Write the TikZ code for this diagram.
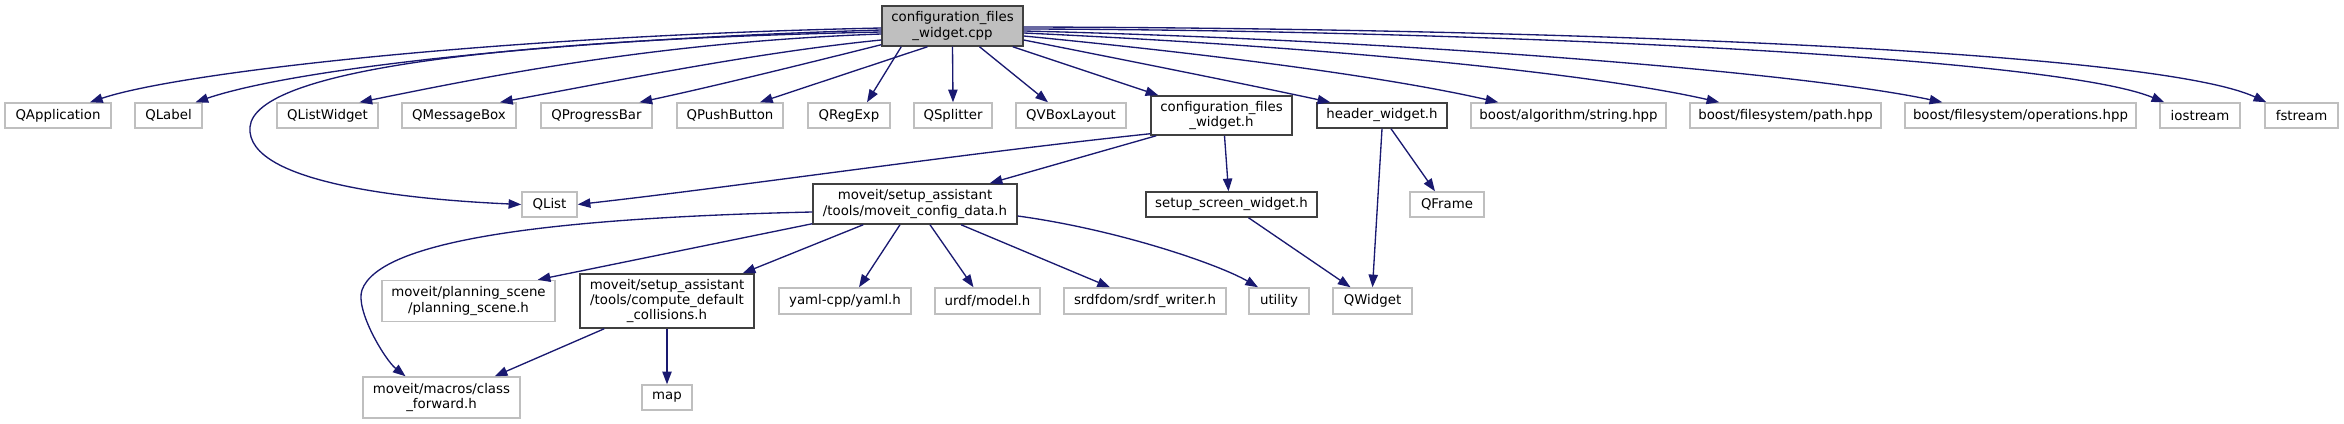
\documentclass[tikz,border=0pt]{standalone}
\usepackage{fontspec}
\setmainfont{DejaVu Sans}
\usetikzlibrary{arrows.meta,calc}
\definecolor{Navy}{HTML}{191970}
\definecolor{Grey}{HTML}{BFBFBF}
\definecolor{Dark}{HTML}{404040}

\begin{document}
\begin{tikzpicture}[x=0.75pt,y=-0.75pt,
    box/.style={draw,rectangle,fill=white,font=\fontsize{10}{11.5}\selectfont,
      align=center,inner xsep=1pt,inner ysep=1pt,minimum height=18.75pt,line width=1.1pt},
    ext/.style={box,draw=Grey},
    doc/.style={box,draw=Dark},
    edge/.style={Navy,line width=1pt,-{Triangle[length=9.5pt,width=7pt]}}]
  \useasboundingbox (0,0) rectangle (2344,424);
  \node[doc,fill=Grey,minimum width=141*0.75pt,minimum height=30pt] (root) at (952.5,26)
    {configuration\_files\\\_widget.cpp};
  \node[doc,minimum width=141*0.75pt,minimum height=39*0.75pt] (confh) at (1221.5,115.5)
    {configuration\_files\\\_widget.h};
  \node[doc,minimum width=130*0.75pt] (headerw) at (1382,115.5) {header\_widget.h};
  \node[doc,minimum width=204*0.75pt,minimum height=30pt] (configdata) at (915,204)
    {moveit/setup\_assistant\\/tools/moveit\_config\_data.h};
  \node[doc,minimum width=171*0.75pt] (setupscreen) at (1231.5,204.5) {setup\_screen\_widget.h};
  \node[doc,minimum width=174*0.75pt,minimum height=54*0.75pt] (computecoll) at (667,301)
    {moveit/setup\_assistant\\/tools/compute\_default\\\_collisions.h};
  \foreach \n/\x/\y/\w/\h/\lbl in {qapp/58/115.5/106/25/QApplication,
    qlabel/168.5/115.5/67/25/QLabel,qlistwidget/327.5/115.5/101/25/QListWidget,
    qmessagebox/459/115.5/114/25/QMessageBox,qprogressbar/596.5/115.5/111/25/QProgressBar,
    qpushbutton/730/115.5/106/25/QPushButton,qregexp/849/115.5/82/25/QRegExp,
    qsplitter/953/115.5/78/25/QSplitter,qvboxlayout/1071/115.5/110/25/QVBoxLayout,
    boostalg/1568.5/115.5/195/25/{boost/algorithm/string.hpp},
    boostpath/1785.5/115.5/191/25/{boost/filesystem/path.hpp},
    boostops/2020.5/115.5/231/25/{boost/filesystem/operations.hpp},
    iostream/2200/115.5/80/25/iostream,fstream/2301.5/115.5/73/25/fstream,
    qlist/549.5/204.5/55/25/QList,qframe/1447/204.5/74/25/QFrame,
    planningscene/468.5/301/173/41/{moveit/planning\_scene\\/planning\_scene.h},
    yaml/845/301/132/26/{yaml-cpp/yaml.h},urdf/987.5/301/105/26/{urdf/model.h},
    srdf/1145/301/162/26/{srdfdom/srdf\_writer.h},utility/1279/301/60/26/utility,
    qwidget/1372.5/301/79/26/QWidget,
    classfwd/441.5/397.5/157/41/{moveit/macros/class\\\_forward.h},
    map/667/397.5/50/25/map}
    \node[ext,minimum width=\w*0.75pt,minimum height=\h*0.75pt] (\n) at (\x,\y) {\lbl};
  \draw[edge] ($(root.west)+(0,2)$) .. controls (500,36) and (180,72) .. ($(qapp.north)+(32,0)$);
  \draw[edge] ($(root.west)+(0,4)$) .. controls (540,40) and (290,70) .. ($(qlabel.north)+(27,0)$);
  \draw[edge] ($(root.west)+(0,6)$) .. controls (500,40) and (255,70) .. (250,127)
    .. controls (245,185) and (420,200) .. (qlist.west);
  \draw[edge] ($(root.west)+(0,8)$) .. controls (650,42) and (470,80) .. ($(qlistwidget.north)+(32,0)$);
  \draw[edge] ($(root.west)+(0,14)$) .. controls (760,52) and (620,80) .. ($(qmessagebox.north)+(41,0)$);
  \draw[edge] ($(root.south west)+(0,-2)$) .. controls (820,60) and (720,85) .. ($(qprogressbar.north)+(43,0)$);
  \draw[edge] ($(root.south)+(-25,0)$) -- ($(qpushbutton.north)+(30,0)$);
  \draw[edge] ($(root.south west)+(20,0)$) -- ($(qregexp.north)+(18,0)$);
  \draw[edge] (root.south) -- (qsplitter.north);
  \draw[edge] ($(root.south)+(27,0)$) -- ($(qvboxlayout.north)+(-23,0)$);
  \draw[edge] ($(root.south east)+(-11,0)$) -- ($(confh.north west)+(8,0)$);
  \draw[edge] ($(root.east)+(0,14)$) .. controls (1150,65) and (1250,85) .. ($(headerw.north west)+(14,0)$);
  \draw[edge] ($(root.east)+(0,10)$) .. controls (1250,58) and (1400,80) .. ($(boostalg.north west)+(28,0)$);
  \draw[edge] ($(root.east)+(0,7)$) .. controls (1350,48) and (1600,75) .. ($(boostpath.north west)+(30,0)$);
  \draw[edge] ($(root.east)+(0,5)$) .. controls (1400,40) and (1800,72) .. ($(boostops.north west)+(38,0)$);
  \draw[edge] ($(root.east)+(0,3)$) .. controls (1450,30) and (2050,55) .. ($(iostream.north west)+(5,0)$);
  \draw[edge] ($(root.east)+(0,1)$) .. controls (1500,28) and (2150,48) .. ($(fstream.north west)+(2,0)$);
  \draw[edge] ($(confh.south west)+(0,-2)$) .. controls (950,155) and (750,185) .. (qlist.east);
  \draw[edge] ($(confh.south west)+(6,0)$) -- ($(configdata.north east)+(-28,0)$);
  \draw[edge] ($(confh.south)+(3,0)$) -- ($(setupscreen.north)+(-3,0)$);
  \draw[edge] (headerw.south) -- (qwidget.north);
  \draw[edge] ($(headerw.south)+(9,0)$) -- ($(qframe.north)+(-12,0)$);
  \draw[edge] ($(setupscreen.south)+(17,0)$) -- ($(qwidget.north)+(-22,0)$);
  \draw[edge] ($(configdata.west)+(0,8)$) .. controls (550,218) and (380,240) .. (362,290)
    .. controls (355,310) and (385,360) .. ($(classfwd.north)+(-36,0)$);
  \draw[edge] ($(configdata.south west)+(0,-1)$) -- ($(planningscene.north east)+(-18,0)$);
  \draw[edge] ($(configdata.south west)+(51,0)$) -- ($(computecoll.north east)+(-12,0)$);
  \draw[edge] ($(configdata.south)+(-15,0)$) -- ($(yaml.north)+(14,0)$);
  \draw[edge] ($(configdata.south)+(15,0)$) -- ($(urdf.north)+(-14,0)$);
  \draw[edge] ($(configdata.south)+(46,0)$) -- ($(srdf.north)+(-35,0)$);
  \draw[edge] ($(configdata.east)+(0,12)$) .. controls (1120,230) and (1220,265) .. ($(utility.north)+(-21,0)$);
  \draw[edge] ($(computecoll.south west)+(25,0)$) -- ($(classfwd.north east)+(-26,0)$);
  \draw[edge] (computecoll.south) -- (map.north);
\end{tikzpicture}
\end{document}
